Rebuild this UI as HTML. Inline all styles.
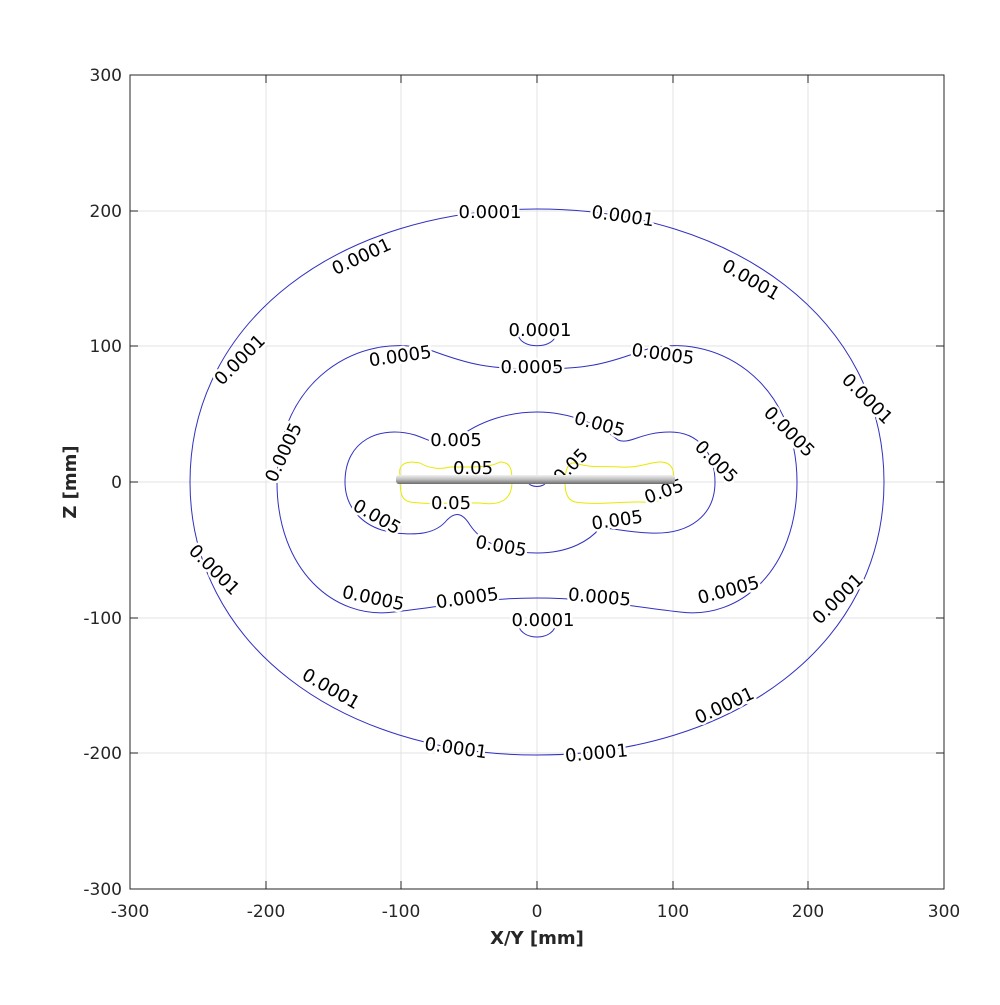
<!DOCTYPE html><html><head><style>body{margin:0;background:#fff}svg text{font-family:"DejaVu Sans","Liberation Sans",sans-serif}</style></head><body>
<svg width="1000" height="1000" xmlns="http://www.w3.org/2000/svg">
<rect width="1000" height="1000" fill="#fff"/>
<g stroke="#e3e3e3" stroke-width="1">
<line x1="266" y1="75" x2="266" y2="889"/><line x1="401" y1="75" x2="401" y2="889"/><line x1="537" y1="75" x2="537" y2="889"/><line x1="673" y1="75" x2="673" y2="889"/><line x1="808" y1="75" x2="808" y2="889"/>
<line x1="130" y1="211" x2="944" y2="211"/><line x1="130" y1="346" x2="944" y2="346"/><line x1="130" y1="482" x2="944" y2="482"/><line x1="130" y1="618" x2="944" y2="618"/><line x1="130" y1="753" x2="944" y2="753"/>
</g>
<rect x="130" y="75" width="814" height="814" fill="none" stroke="#262626"/>
<g stroke="#262626"><line x1="266" y1="75" x2="266" y2="83"/><line x1="401" y1="75" x2="401" y2="83"/><line x1="537" y1="75" x2="537" y2="83"/><line x1="673" y1="75" x2="673" y2="83"/><line x1="808" y1="75" x2="808" y2="83"/>
<line x1="266" y1="889" x2="266" y2="881"/><line x1="401" y1="889" x2="401" y2="881"/><line x1="537" y1="889" x2="537" y2="881"/><line x1="673" y1="889" x2="673" y2="881"/><line x1="808" y1="889" x2="808" y2="881"/>
<line x1="130" y1="211" x2="138" y2="211"/><line x1="130" y1="346" x2="138" y2="346"/><line x1="130" y1="482" x2="138" y2="482"/><line x1="130" y1="618" x2="138" y2="618"/><line x1="130" y1="753" x2="138" y2="753"/>
<line x1="944" y1="211" x2="936" y2="211"/><line x1="944" y1="346" x2="936" y2="346"/><line x1="944" y1="482" x2="936" y2="482"/><line x1="944" y1="618" x2="936" y2="618"/><line x1="944" y1="753" x2="936" y2="753"/></g>
<g font-size="17" fill="#262626" text-anchor="middle">
<text x="130" y="917">-300</text><text x="266" y="917">-200</text><text x="401" y="917">-100</text><text x="537" y="917">0</text><text x="673" y="917">100</text><text x="808" y="917">200</text><text x="944" y="917">300</text>
</g>
<g font-size="17" fill="#262626" text-anchor="end">
<text x="122" y="81">300</text><text x="122" y="217">200</text><text x="122" y="352">100</text><text x="122" y="488">0</text><text x="122" y="624">-100</text><text x="122" y="759">-200</text><text x="122" y="895">-300</text>
</g>
<text x="537" y="944" font-size="18" font-weight="bold" text-anchor="middle" fill="#262626">X/Y [mm]</text>
<text transform="translate(76,482) rotate(-90)" font-size="18" font-weight="bold" text-anchor="middle" fill="#262626">Z [mm]</text>
<g fill="none" stroke="#3030c0" stroke-width="1">
<path d="M190,482 C190,320 340,209 537,209 C734,209 884,320 884,482 C884,644 734,755 537,755 C340,755 190,644 190,482Z"/>
<path d="M277,482 C277,380 360,330 430,350 C470,365 490,369 537,369 C584,369 604,365 644,350 C714,330 797,380 797,482 C797,570 740,620 680,612 C620,605 590,598 537,598 C484,598 454,605 394,612 C334,620 277,570 277,482Z"/>
<path d="M345,482 C345,440 380,425 415,435 C435,442 440,448 455,440 C480,420 510,412 537,412 C570,412 600,425 618,440 C630,445 640,432 670,432 C700,432 715,455 715,482 C715,515 690,535 650,533 C625,532 615,528 600,528 C590,540 570,553 537,553 C500,553 480,540 470,525 C462,512 455,512 447,520 C435,535 415,535 395,533 C360,528 345,505 345,482Z"/>
<path d="M518,333 C518,350 556,350 556,333"/>
<path d="M518,622 C518,642 556,642 556,622"/>
<path d="M528,482 C530,488 544,488 546,482"/>
</g>
<g fill="none" stroke="#e8e800" stroke-width="1">
<path d="M400,475 C398,465 405,460 420,463 C428,468 440,470 450,467 C470,467 490,468 500,462 C512,462 512,472 512,482 C512,500 500,506 480,503 C455,502 430,505 410,502 C400,500 400,490 400,475Z"/>
<path d="M565,482 C565,470 568,462 575,463 C590,468 600,466 620,467 C640,468 650,462 660,462 C673,462 675,472 673,482 C672,500 660,503 640,502 C615,502 595,505 575,502 C567,500 565,492 565,482Z"/>
</g>
<defs><linearGradient id="g" x1="0" y1="0" x2="0" y2="1"><stop offset="0" stop-color="#f2f2f2"/><stop offset="0.5" stop-color="#bdbdbd"/><stop offset="1" stop-color="#6a6a6a"/></linearGradient></defs>
<g font-size="18" fill="#000" text-anchor="middle" stroke="#fff" stroke-width="5" paint-order="stroke" stroke-linejoin="round">
<text x="490" y="218">0.0001</text>
<text transform="translate(622,222) rotate(8)">0.0001</text>
<text transform="translate(748,285) rotate(30)">0.0001</text>
<text transform="translate(863,403) rotate(45)">0.0001</text>
<text transform="translate(364,262) rotate(-25)">0.0001</text>
<text transform="translate(244,364) rotate(-45)">0.0001</text>
<text transform="translate(210,574) rotate(45)">0.0001</text>
<text transform="translate(328,694) rotate(30)">0.0001</text>
<text transform="translate(455,754) rotate(8)">0.0001</text>
<text transform="translate(597,759) rotate(-5)">0.0001</text>
<text transform="translate(727,711) rotate(-25)">0.0001</text>
<text transform="translate(842,603) rotate(-45)">0.0001</text>
<text x="540" y="336">0.0001</text>
<text x="543" y="626">0.0001</text>
<text transform="translate(401,362) rotate(-8)">0.0005</text>
<text x="532" y="373">0.0005</text>
<text transform="translate(662,360) rotate(8)">0.0005</text>
<text transform="translate(785,436) rotate(45)">0.0005</text>
<text transform="translate(289,455) rotate(-65)">0.0005</text>
<text transform="translate(372,604) rotate(12)">0.0005</text>
<text transform="translate(468,604) rotate(-8)">0.0005</text>
<text transform="translate(599,603) rotate(5)">0.0005</text>
<text transform="translate(730,596) rotate(-15)">0.0005</text>
<text x="456" y="446">0.005</text>
<text transform="translate(598,430) rotate(15)">0.005</text>
<text transform="translate(712,466) rotate(45)">0.005</text>
<text transform="translate(374,522) rotate(30)">0.005</text>
<text transform="translate(500,552) rotate(10)">0.005</text>
<text transform="translate(618,526) rotate(-8)">0.005</text>
<text x="473" y="474" stroke="none">0.05</text>
<text transform="translate(575,470) rotate(-45)" stroke="none">0.05</text>
<text x="451" y="509">0.05</text>
<text transform="translate(666,497) rotate(-20)">0.05</text>
</g>
<rect x="396" y="475" width="279" height="9" rx="3" fill="url(#g)"/>
</svg>
</body></html>
